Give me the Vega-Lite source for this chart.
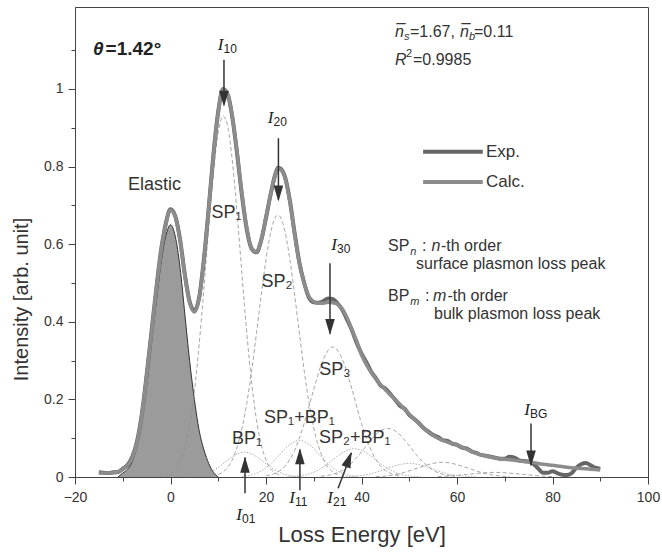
{
  "$schema": "https://vega.github.io/schema/vega-lite/v6.json",
  "width": 573,
  "height": 470,
  "autosize": "none",
  "padding": {"left": 75, "top": 7, "right": 14, "bottom": 76},
  "background": "white",
  "config": {
    "view": {"stroke": "#444", "strokeWidth": 1},
    "font": "Liberation Sans",
    "axis": {"domainColor": "#444", "tickColor": "#444", "labelColor": "#333", "titleColor": "#333", "labelFont": "Liberation Sans", "titleFont": "Liberation Sans", "titleFontWeight": "normal", "grid": false, "labelFontSize": 14}
  },
  "datasets": {
    "calc": [
      {"x": -15, "y": 0.010}, {"x": -14, "y": 0.010}, {"x": -13, "y": 0.010}, {"x": -12, "y": 0.011}, {"x": -11, "y": 0.013},
      {"x": -10, "y": 0.02}, {"x": -9, "y": 0.03}, {"x": -8, "y": 0.05}, {"x": -7, "y": 0.09}, {"x": -6, "y": 0.16},
      {"x": -5, "y": 0.26}, {"x": -4, "y": 0.37}, {"x": -3, "y": 0.48}, {"x": -2, "y": 0.58}, {"x": -1, "y": 0.65},
      {"x": 0, "y": 0.688}, {"x": 1, "y": 0.67}, {"x": 2, "y": 0.61}, {"x": 3, "y": 0.52}, {"x": 4, "y": 0.45},
      {"x": 5, "y": 0.425}, {"x": 6, "y": 0.46}, {"x": 7, "y": 0.56}, {"x": 8, "y": 0.69}, {"x": 9, "y": 0.83},
      {"x": 10, "y": 0.94}, {"x": 11, "y": 1.0}, {"x": 12, "y": 0.985}, {"x": 13, "y": 0.925}, {"x": 14, "y": 0.83},
      {"x": 15, "y": 0.725}, {"x": 16, "y": 0.64}, {"x": 17, "y": 0.59}, {"x": 18, "y": 0.58}, {"x": 19, "y": 0.61},
      {"x": 20, "y": 0.67}, {"x": 21, "y": 0.73}, {"x": 22, "y": 0.78}, {"x": 22.5, "y": 0.795}, {"x": 23, "y": 0.793},
      {"x": 24, "y": 0.77}, {"x": 25, "y": 0.71}, {"x": 26, "y": 0.625}, {"x": 27, "y": 0.55}, {"x": 28, "y": 0.5},
      {"x": 29, "y": 0.465}, {"x": 30, "y": 0.452}, {"x": 31, "y": 0.448}, {"x": 32, "y": 0.448}, {"x": 33, "y": 0.45},
      {"x": 34, "y": 0.449}, {"x": 35, "y": 0.445}, {"x": 36, "y": 0.432}, {"x": 37, "y": 0.41}, {"x": 38, "y": 0.38},
      {"x": 39, "y": 0.35}, {"x": 40, "y": 0.315}, {"x": 41, "y": 0.29}, {"x": 42, "y": 0.27}, {"x": 43, "y": 0.253},
      {"x": 44, "y": 0.238}, {"x": 45, "y": 0.225}, {"x": 46, "y": 0.212}, {"x": 47, "y": 0.2}, {"x": 48, "y": 0.188},
      {"x": 49, "y": 0.175}, {"x": 50, "y": 0.162}, {"x": 52, "y": 0.138}, {"x": 54, "y": 0.115}, {"x": 56, "y": 0.1},
      {"x": 58, "y": 0.09}, {"x": 60, "y": 0.082}, {"x": 62, "y": 0.072}, {"x": 64, "y": 0.061}, {"x": 66, "y": 0.054},
      {"x": 68, "y": 0.049}, {"x": 70, "y": 0.046}, {"x": 72, "y": 0.043}, {"x": 74, "y": 0.04}, {"x": 76, "y": 0.037},
      {"x": 78, "y": 0.033}, {"x": 80, "y": 0.03}, {"x": 82, "y": 0.027}, {"x": 84, "y": 0.024}, {"x": 86, "y": 0.022},
      {"x": 88, "y": 0.02}, {"x": 90, "y": 0.018}
    ],
    "exp": [
      {"x": -15, "y": 0.012}, {"x": -14, "y": 0.011}, {"x": -13, "y": 0.01}, {"x": -12, "y": 0.012}, {"x": -11, "y": 0.013},
      {"x": -10, "y": 0.021}, {"x": -9, "y": 0.031}, {"x": -8, "y": 0.052}, {"x": -7, "y": 0.092}, {"x": -6, "y": 0.162},
      {"x": -5, "y": 0.262}, {"x": -4, "y": 0.372}, {"x": -3, "y": 0.482}, {"x": -2, "y": 0.582}, {"x": -1, "y": 0.652},
      {"x": 0, "y": 0.69}, {"x": 1, "y": 0.672}, {"x": 2, "y": 0.612}, {"x": 3, "y": 0.522}, {"x": 4, "y": 0.452},
      {"x": 5, "y": 0.428}, {"x": 6, "y": 0.462}, {"x": 7, "y": 0.562}, {"x": 8, "y": 0.692}, {"x": 9, "y": 0.832},
      {"x": 10, "y": 0.942}, {"x": 11, "y": 1.0}, {"x": 12, "y": 0.985}, {"x": 13, "y": 0.923}, {"x": 14, "y": 0.828},
      {"x": 15, "y": 0.722}, {"x": 16, "y": 0.636}, {"x": 17, "y": 0.588}, {"x": 18, "y": 0.579}, {"x": 19, "y": 0.61},
      {"x": 20, "y": 0.668}, {"x": 21, "y": 0.73}, {"x": 22, "y": 0.782}, {"x": 22.5, "y": 0.797}, {"x": 23, "y": 0.795},
      {"x": 24, "y": 0.772}, {"x": 25, "y": 0.712}, {"x": 26, "y": 0.628}, {"x": 27, "y": 0.552}, {"x": 28, "y": 0.5},
      {"x": 29, "y": 0.462}, {"x": 30, "y": 0.45}, {"x": 31, "y": 0.449}, {"x": 32, "y": 0.453}, {"x": 33, "y": 0.46},
      {"x": 34, "y": 0.458}, {"x": 35, "y": 0.447}, {"x": 36, "y": 0.43}, {"x": 37, "y": 0.405}, {"x": 38, "y": 0.378},
      {"x": 39, "y": 0.345}, {"x": 40, "y": 0.318}, {"x": 41, "y": 0.296}, {"x": 42, "y": 0.272}, {"x": 43, "y": 0.255},
      {"x": 44, "y": 0.236}, {"x": 45, "y": 0.228}, {"x": 46, "y": 0.214}, {"x": 47, "y": 0.2}, {"x": 48, "y": 0.184},
      {"x": 49, "y": 0.176}, {"x": 50, "y": 0.16}, {"x": 51, "y": 0.15}, {"x": 52, "y": 0.139}, {"x": 53, "y": 0.126},
      {"x": 54, "y": 0.117}, {"x": 55, "y": 0.108}, {"x": 56, "y": 0.103}, {"x": 57, "y": 0.095}, {"x": 58, "y": 0.093},
      {"x": 59, "y": 0.086}, {"x": 60, "y": 0.083}, {"x": 61, "y": 0.076}, {"x": 62, "y": 0.074}, {"x": 63, "y": 0.066},
      {"x": 64, "y": 0.062}, {"x": 65, "y": 0.057}, {"x": 66, "y": 0.055}, {"x": 67, "y": 0.052}, {"x": 68, "y": 0.05},
      {"x": 69, "y": 0.047}, {"x": 70, "y": 0.047}, {"x": 71, "y": 0.052}, {"x": 72, "y": 0.05}, {"x": 73, "y": 0.043},
      {"x": 74, "y": 0.041}, {"x": 75, "y": 0.04}, {"x": 76, "y": 0.034}, {"x": 77, "y": 0.022}, {"x": 78, "y": 0.011},
      {"x": 79, "y": 0.011}, {"x": 80, "y": 0.015}, {"x": 81, "y": 0.01}, {"x": 82, "y": 0.006}, {"x": 83, "y": 0.005},
      {"x": 84, "y": 0.01}, {"x": 85, "y": 0.024}, {"x": 86, "y": 0.033}, {"x": 87, "y": 0.036}, {"x": 88, "y": 0.03},
      {"x": 89, "y": 0.024}, {"x": 90, "y": 0.021}
    ],
    "elastic": [
      {"x": -11, "y": 0.0}, {"x": -10, "y": 0.01}, {"x": -9, "y": 0.02}, {"x": -8, "y": 0.04}, {"x": -7, "y": 0.08},
      {"x": -6, "y": 0.15}, {"x": -5, "y": 0.24}, {"x": -4, "y": 0.35}, {"x": -3, "y": 0.45}, {"x": -2, "y": 0.55},
      {"x": -1, "y": 0.62}, {"x": 0, "y": 0.65}, {"x": 1, "y": 0.62}, {"x": 2, "y": 0.54}, {"x": 3, "y": 0.42},
      {"x": 4, "y": 0.30}, {"x": 5, "y": 0.20}, {"x": 6, "y": 0.12}, {"x": 7, "y": 0.07}, {"x": 8, "y": 0.035},
      {"x": 9, "y": 0.012}, {"x": 10, "y": 0.0}
    ],
    "compSP": [
      {"s": "SP1", "x": -1, "y": 0.003}, {"s": "SP1", "x": 0, "y": 0.008}, {"s": "SP1", "x": 1, "y": 0.018}, {"s": "SP1", "x": 2, "y": 0.038},
      {"s": "SP1", "x": 3, "y": 0.074}, {"s": "SP1", "x": 4, "y": 0.133}, {"s": "SP1", "x": 5, "y": 0.221}, {"s": "SP1", "x": 6, "y": 0.341},
      {"s": "SP1", "x": 7, "y": 0.486}, {"s": "SP1", "x": 8, "y": 0.642}, {"s": "SP1", "x": 9, "y": 0.785}, {"s": "SP1", "x": 10, "y": 0.888},
      {"s": "SP1", "x": 11, "y": 0.93}, {"s": "SP1", "x": 12, "y": 0.902}, {"s": "SP1", "x": 13, "y": 0.809}, {"s": "SP1", "x": 14, "y": 0.672},
      {"s": "SP1", "x": 15, "y": 0.517}, {"s": "SP1", "x": 16, "y": 0.368}, {"s": "SP1", "x": 17, "y": 0.243}, {"s": "SP1", "x": 18, "y": 0.148},
      {"s": "SP1", "x": 19, "y": 0.084}, {"s": "SP1", "x": 20, "y": 0.044}, {"s": "SP1", "x": 21, "y": 0.021}, {"s": "SP1", "x": 22, "y": 0.01},
      {"s": "SP1", "x": 23, "y": 0.004},
      {"s": "SP2", "x": 10, "y": 0.006}, {"s": "SP2", "x": 11, "y": 0.013}, {"s": "SP2", "x": 12, "y": 0.025}, {"s": "SP2", "x": 13, "y": 0.046},
      {"s": "SP2", "x": 14, "y": 0.079}, {"s": "SP2", "x": 15, "y": 0.127}, {"s": "SP2", "x": 16, "y": 0.192}, {"s": "SP2", "x": 17, "y": 0.274},
      {"s": "SP2", "x": 18, "y": 0.37}, {"s": "SP2", "x": 19, "y": 0.469}, {"s": "SP2", "x": 20, "y": 0.56}, {"s": "SP2", "x": 21, "y": 0.631},
      {"s": "SP2", "x": 22, "y": 0.67}, {"s": "SP2", "x": 22.5, "y": 0.675}, {"s": "SP2", "x": 23, "y": 0.67}, {"s": "SP2", "x": 24, "y": 0.631},
      {"s": "SP2", "x": 25, "y": 0.56}, {"s": "SP2", "x": 26, "y": 0.469}, {"s": "SP2", "x": 27, "y": 0.37}, {"s": "SP2", "x": 28, "y": 0.274},
      {"s": "SP2", "x": 29, "y": 0.192}, {"s": "SP2", "x": 30, "y": 0.127}, {"s": "SP2", "x": 31, "y": 0.079}, {"s": "SP2", "x": 32, "y": 0.046},
      {"s": "SP2", "x": 33, "y": 0.025}, {"s": "SP2", "x": 34, "y": 0.013}, {"s": "SP2", "x": 35, "y": 0.006},
      {"s": "SP3", "x": 20, "y": 0.003}, {"s": "SP3", "x": 22, "y": 0.01}, {"s": "SP3", "x": 24, "y": 0.028}, {"s": "SP3", "x": 26, "y": 0.069},
      {"s": "SP3", "x": 28, "y": 0.138}, {"s": "SP3", "x": 30, "y": 0.226}, {"s": "SP3", "x": 32, "y": 0.303}, {"s": "SP3", "x": 34, "y": 0.335},
      {"s": "SP3", "x": 36, "y": 0.303}, {"s": "SP3", "x": 38, "y": 0.226}, {"s": "SP3", "x": 40, "y": 0.138}, {"s": "SP3", "x": 42, "y": 0.069},
      {"s": "SP3", "x": 44, "y": 0.028}, {"s": "SP3", "x": 46, "y": 0.01}, {"s": "SP3", "x": 48, "y": 0.003},
      {"s": "SP4", "x": 31.5, "y": 0.002}, {"s": "SP4", "x": 33.5, "y": 0.0055}, {"s": "SP4", "x": 35.5, "y": 0.014}, {"s": "SP4", "x": 37.5, "y": 0.031},
      {"s": "SP4", "x": 39.5, "y": 0.057}, {"s": "SP4", "x": 41.5, "y": 0.088}, {"s": "SP4", "x": 43.5, "y": 0.115}, {"s": "SP4", "x": 45.5, "y": 0.125},
      {"s": "SP4", "x": 47.5, "y": 0.115}, {"s": "SP4", "x": 49.5, "y": 0.088}, {"s": "SP4", "x": 51.5, "y": 0.057}, {"s": "SP4", "x": 53.5, "y": 0.031},
      {"s": "SP4", "x": 55.5, "y": 0.014}, {"s": "SP4", "x": 57.5, "y": 0.0055}, {"s": "SP4", "x": 59.5, "y": 0.002},
      {"s": "SP5", "x": 43, "y": 0.001}, {"s": "SP5", "x": 45, "y": 0.0026}, {"s": "SP5", "x": 47, "y": 0.006}, {"s": "SP5", "x": 49, "y": 0.012},
      {"s": "SP5", "x": 51, "y": 0.02}, {"s": "SP5", "x": 53, "y": 0.028}, {"s": "SP5", "x": 55, "y": 0.035}, {"s": "SP5", "x": 57, "y": 0.038},
      {"s": "SP5", "x": 59, "y": 0.035}, {"s": "SP5", "x": 61, "y": 0.028}, {"s": "SP5", "x": 63, "y": 0.02}, {"s": "SP5", "x": 65, "y": 0.012},
      {"s": "SP5", "x": 67, "y": 0.006}, {"s": "SP5", "x": 69, "y": 0.0026}, {"s": "SP5", "x": 71, "y": 0.001},
      {"s": "SP6", "x": 56, "y": 0.0011}, {"s": "SP6", "x": 59, "y": 0.0031}, {"s": "SP6", "x": 62, "y": 0.0066}, {"s": "SP6", "x": 65, "y": 0.01},
      {"s": "SP6", "x": 68, "y": 0.012}, {"s": "SP6", "x": 71, "y": 0.01}, {"s": "SP6", "x": 74, "y": 0.0066}, {"s": "SP6", "x": 77, "y": 0.0031},
      {"s": "SP6", "x": 80, "y": 0.0011}
    ],
    "compBP": [
      {"s": "BP1", "x": 3.5, "y": 0.0007}, {"s": "BP1", "x": 5.5, "y": 0.0028}, {"s": "BP1", "x": 7.5, "y": 0.0087}, {"s": "BP1", "x": 9.5, "y": 0.0208},
      {"s": "BP1", "x": 11.5, "y": 0.0388}, {"s": "BP1", "x": 13.5, "y": 0.0565}, {"s": "BP1", "x": 15.5, "y": 0.064}, {"s": "BP1", "x": 17.5, "y": 0.0565},
      {"s": "BP1", "x": 19.5, "y": 0.0388}, {"s": "BP1", "x": 21.5, "y": 0.0208}, {"s": "BP1", "x": 23.5, "y": 0.0087}, {"s": "BP1", "x": 25.5, "y": 0.0028},
      {"s": "BP1", "x": 27.5, "y": 0.0007},
      {"s": "SP1BP1", "x": 15, "y": 0.0016}, {"s": "SP1BP1", "x": 17, "y": 0.0055}, {"s": "SP1BP1", "x": 19, "y": 0.0153}, {"s": "SP1BP1", "x": 21, "y": 0.0339},
      {"s": "SP1BP1", "x": 23, "y": 0.0597}, {"s": "SP1BP1", "x": 25, "y": 0.084}, {"s": "SP1BP1", "x": 27, "y": 0.094}, {"s": "SP1BP1", "x": 29, "y": 0.084},
      {"s": "SP1BP1", "x": 31, "y": 0.0597}, {"s": "SP1BP1", "x": 33, "y": 0.0339}, {"s": "SP1BP1", "x": 35, "y": 0.0153}, {"s": "SP1BP1", "x": 37, "y": 0.0055},
      {"s": "SP1BP1", "x": 39, "y": 0.0016},
      {"s": "SP2BP1", "x": 24.5, "y": 0.0006}, {"s": "SP2BP1", "x": 26.5, "y": 0.0021}, {"s": "SP2BP1", "x": 28.5, "y": 0.0062}, {"s": "SP2BP1", "x": 30.5, "y": 0.015},
      {"s": "SP2BP1", "x": 32.5, "y": 0.03}, {"s": "SP2BP1", "x": 34.5, "y": 0.049}, {"s": "SP2BP1", "x": 36.5, "y": 0.066}, {"s": "SP2BP1", "x": 38.5, "y": 0.073},
      {"s": "SP2BP1", "x": 40.5, "y": 0.066}, {"s": "SP2BP1", "x": 42.5, "y": 0.049}, {"s": "SP2BP1", "x": 44.5, "y": 0.03}, {"s": "SP2BP1", "x": 46.5, "y": 0.015},
      {"s": "SP2BP1", "x": 48.5, "y": 0.0062}, {"s": "SP2BP1", "x": 50.5, "y": 0.0021}, {"s": "SP2BP1", "x": 52.5, "y": 0.0006},
      {"s": "SP3BP1", "x": 36, "y": 0.0005}, {"s": "SP3BP1", "x": 38, "y": 0.0015}, {"s": "SP3BP1", "x": 40, "y": 0.004}, {"s": "SP3BP1", "x": 42, "y": 0.0087},
      {"s": "SP3BP1", "x": 44, "y": 0.016}, {"s": "SP3BP1", "x": 46, "y": 0.0247}, {"s": "SP3BP1", "x": 48, "y": 0.032}, {"s": "SP3BP1", "x": 50, "y": 0.035},
      {"s": "SP3BP1", "x": 52, "y": 0.032}, {"s": "SP3BP1", "x": 54, "y": 0.0247}, {"s": "SP3BP1", "x": 56, "y": 0.016}, {"s": "SP3BP1", "x": 58, "y": 0.0087},
      {"s": "SP3BP1", "x": 60, "y": 0.004}, {"s": "SP3BP1", "x": 62, "y": 0.0015}, {"s": "SP3BP1", "x": 64, "y": 0.0005}
    ],
    "shafts": [
      {"x": 11.2, "y": 1.075, "x2": 11.2, "y2": 0.96},
      {"x": 22.6, "y": 0.873, "x2": 22.6, "y2": 0.715},
      {"x": 33.4, "y": 0.551, "x2": 33.4, "y2": 0.37},
      {"x": 75.5, "y": 0.138, "x2": 75.5, "y2": 0.03},
      {"x": 15.6, "y": -0.042, "x2": 15.6, "y2": 0.05},
      {"x": 27.1, "y": -0.034, "x2": 27.1, "y2": 0.07},
      {"x": 35.1, "y": -0.029, "x2": 37.9, "y2": 0.062}
    ],
    "headsDown": [{"x": 11.2, "y": 0.954}, {"x": 22.6, "y": 0.71}, {"x": 33.4, "y": 0.366}, {"x": 75.5, "y": 0.027}],
    "headsUp": [{"x": 15.6, "y": 0.052}, {"x": 27.1, "y": 0.074}],
    "headDiag": [{"x": 37.9, "y": 0.065}],
    "iMain": [
      {"x": 11.1, "y": 1.1005, "t": "I"}, {"x": 21.57, "y": 0.9116, "t": "I"}, {"x": 34.87, "y": 0.585, "t": "I"},
      {"x": 75.29, "y": 0.16, "t": "I"}, {"x": 14.97, "y": -0.111, "t": "I"}, {"x": 26.07, "y": -0.067, "t": "I"}, {"x": 34.03, "y": -0.067, "t": "I"}
    ],
    "iSub": [
      {"x": 11.1, "y": 1.1005, "t": "10"}, {"x": 21.57, "y": 0.9116, "t": "20"}, {"x": 34.87, "y": 0.585, "t": "30"},
      {"x": 75.29, "y": 0.16, "t": "BG"}, {"x": 14.97, "y": -0.111, "t": "01"}, {"x": 26.07, "y": -0.067, "t": "11"}, {"x": 34.03, "y": -0.067, "t": "21"}
    ],
    "labels": [
      {"x": -3.35, "y": 0.7526, "t": "Elastic"},
      {"x": 11.73, "y": 0.68, "t": "SP\u2081"},
      {"x": 22.3, "y": 0.5026, "t": "SP\u2082"},
      {"x": 34.45, "y": 0.2758, "t": "SP\u2083"},
      {"x": 16.02, "y": 0.099, "t": "BP\u2081"},
      {"x": 27.0, "y": 0.151, "t": "SP\u2081+BP\u2081"},
      {"x": 38.6, "y": 0.1005, "t": "SP\u2082+BP\u2081"}
    ],
    "legLines": [
      {"s": "Exp.", "x": 52.9, "y": 0.838}, {"s": "Exp.", "x": 65.4, "y": 0.838},
      {"s": "Calc.", "x": 52.9, "y": 0.76}, {"s": "Calc.", "x": 65.4, "y": 0.76}
    ],
    "legText": [{"x": 66.07, "y": 0.838, "t": "Exp."}, {"x": 66.07, "y": 0.76, "t": "Calc."}],
    "txt": [
      {"x": 50.16, "y": 1.134, "t": "=1.67,"}, {"x": 63.56, "y": 1.134, "t": "=0.11"}, {"x": 50.79, "y": 1.062, "t": "=0.9985"},
      {"x": 45.55, "y": 0.582, "t": "SP"}, {"x": 52.67, "y": 0.582, "t": ":"}, {"x": 56.65, "y": 0.582, "t": "-th order"},
      {"x": 51.41, "y": 0.536, "t": "surface plasmon loss peak"},
      {"x": 45.55, "y": 0.454, "t": "BP"}, {"x": 53.3, "y": 0.454, "t": ":"}, {"x": 58.0, "y": 0.454, "t": "-th order"},
      {"x": 55.18, "y": 0.407, "t": "bulk plasmon loss peak"}
    ],
    "txtI": [
      {"x": 47.02, "y": 1.134, "t": "n\u0305"}, {"x": 60.63, "y": 1.134, "t": "n\u0305"}, {"x": 47.02, "y": 1.062, "t": "R"},
      {"x": 54.68, "y": 0.582, "t": "n"}, {"x": 54.97, "y": 0.454, "t": "m"}
    ],
    "subI": [
      {"x": 48.9, "y": 1.126, "t": "s"}, {"x": 62.51, "y": 1.126, "t": "b"}, {"x": 50.2, "y": 0.572, "t": "n"}, {"x": 50.2, "y": 0.444, "t": "m"}
    ],
    "sup": [{"x": 49.3, "y": 1.082, "t": "2"}],
    "thetaI": [{"x": -16.23, "y": 1.0876, "t": "\u03b8"}],
    "thetaB": [{"x": -13.6, "y": 1.0876, "t": "=1.42\u00b0"}]
  },
  "encoding": {
    "x": {
      "field": "x", "type": "quantitative",
      "scale": {"domain": [-20, 100], "nice": false, "zero": false},
      "axis": {
        "title": "Loss Energy [eV]",
        "format": "d",
        "values": [-20, -10, 0, 10, 20, 30, 40, 50, 60, 70, 80, 90, 100],
        "labelExpr": "datum.value % 20 == 0 ? datum.label : ''",
        "tickSize": {"condition": {"test": "datum.value % 20 != 0", "value": 4}, "value": 7},
        "labelPadding": 6, "titlePadding": 20, "titleFontSize": 22, "labelFlush": false
      }
    },
    "y": {
      "field": "y", "type": "quantitative",
      "scale": {"domain": [0, 1.211], "nice": false, "zero": false},
      "axis": {
        "title": "Intensity [arb. unit]",
        "format": "~g",
        "values": [0, 0.1, 0.2, 0.3, 0.4, 0.5, 0.6, 0.7, 0.8, 0.9, 1, 1.1],
        "labelExpr": "round(datum.value*10) % 2 == 0 ? datum.label : ''",
        "tickSize": {"condition": {"test": "round(datum.value*10) % 2 == 1", "value": 4}, "value": 7},
        "labelPadding": 5, "titleFontSize": 20, "titleX": -48, "titleY": 292, "titleAngle": 270, "titleBaseline": "alphabetic", "titleAlign": "center", "labelFlush": false
      }
    }
  },
  "layer": [
    {"data": {"name": "elastic"}, "mark": {"type": "area", "interpolate": "monotone", "color": "#9b9b9b", "opacity": 1, "line": {"color": "#333", "strokeWidth": 1}}},
    {"data": {"name": "compSP"}, "mark": {"type": "line", "interpolate": "monotone", "color": "#8f8f8f", "strokeWidth": 0.8, "strokeDash": [4, 2.5]}, "encoding": {"detail": {"field": "s"}}},
    {"data": {"name": "compBP"}, "mark": {"type": "line", "interpolate": "monotone", "color": "#9a9a9a", "strokeWidth": 0.8, "strokeDash": [1.5, 1.5]}, "encoding": {"detail": {"field": "s"}}},
    {"data": {"name": "exp"}, "mark": {"type": "line", "interpolate": "monotone", "color": "#666666", "strokeWidth": 4}},
    {"data": {"name": "calc"}, "mark": {"type": "line", "interpolate": "monotone", "color": "#8c8c8c", "strokeWidth": 3.5}},
    {"data": {"name": "legLines"}, "transform": [{"filter": "datum.s == 'Exp.'"}], "mark": {"type": "line", "color": "#666666", "strokeWidth": 4}},
    {"data": {"name": "legLines"}, "transform": [{"filter": "datum.s == 'Calc.'"}], "mark": {"type": "line", "color": "#8c8c8c", "strokeWidth": 4}},
    {"data": {"name": "shafts"}, "mark": {"type": "rule", "color": "#333", "strokeWidth": 1.5}, "encoding": {"x2": {"field": "x2"}, "y2": {"field": "y2"}}},
    {"data": {"name": "headsDown"}, "mark": {"type": "point", "shape": "M-0.6,-2L0.6,-2L0,0Z", "size": 256, "filled": true, "color": "#333", "opacity": 1, "strokeWidth": 0}},
    {"data": {"name": "headsUp"}, "mark": {"type": "point", "shape": "M-0.6,2L0.6,2L0,0Z", "size": 256, "filled": true, "color": "#333", "opacity": 1, "strokeWidth": 0}},
    {"data": {"name": "headDiag"}, "mark": {"type": "point", "shape": "M-0.6,2L0.6,2L0,0Z", "size": 256, "angle": 20, "filled": true, "color": "#333", "opacity": 1, "strokeWidth": 0}},
    {"data": {"name": "iMain"}, "mark": {"type": "text", "font": "Liberation Serif", "fontStyle": "italic", "fontSize": 17, "align": "right", "baseline": "alphabetic", "color": "#222"}, "encoding": {"text": {"field": "t"}}},
    {"data": {"name": "iSub"}, "mark": {"type": "text", "fontSize": 12, "align": "left", "baseline": "alphabetic", "dy": 3, "color": "#222"}, "encoding": {"text": {"field": "t"}}},
    {"data": {"name": "labels"}, "mark": {"type": "text", "fontSize": 18, "align": "center", "baseline": "middle", "color": "#333"}, "encoding": {"text": {"field": "t"}}},
    {"data": {"name": "legText"}, "mark": {"type": "text", "fontSize": 17, "align": "left", "baseline": "middle", "color": "#333"}, "encoding": {"text": {"field": "t"}}},
    {"data": {"name": "txt"}, "mark": {"type": "text", "fontSize": 16, "align": "left", "baseline": "alphabetic", "color": "#333"}, "encoding": {"text": {"field": "t"}}},
    {"data": {"name": "txtI"}, "mark": {"type": "text", "fontSize": 16, "fontStyle": "italic", "align": "left", "baseline": "alphabetic", "color": "#333"}, "encoding": {"text": {"field": "t"}}},
    {"data": {"name": "subI"}, "mark": {"type": "text", "fontSize": 11, "fontStyle": "italic", "align": "left", "baseline": "alphabetic", "color": "#333"}, "encoding": {"text": {"field": "t"}}},
    {"data": {"name": "sup"}, "mark": {"type": "text", "fontSize": 11, "align": "left", "baseline": "alphabetic", "color": "#333"}, "encoding": {"text": {"field": "t"}}},
    {"data": {"name": "thetaI"}, "mark": {"type": "text", "fontSize": 19, "fontStyle": "italic", "fontWeight": "bold", "align": "left", "baseline": "alphabetic", "color": "#222"}, "encoding": {"text": {"field": "t"}}},
    {"data": {"name": "thetaB"}, "mark": {"type": "text", "fontSize": 19, "fontWeight": "bold", "align": "left", "baseline": "alphabetic", "color": "#222"}, "encoding": {"text": {"field": "t"}}}
  ]
}
